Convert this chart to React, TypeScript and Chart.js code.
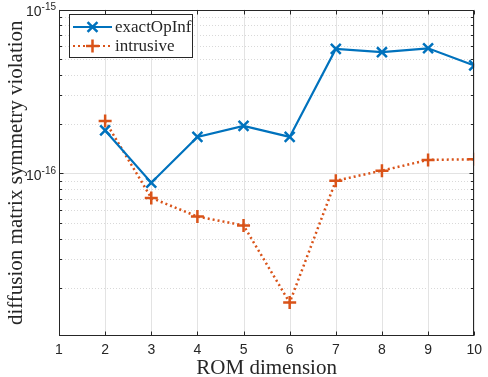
import { useEffect, useRef } from 'react';
import { Chart, registerables } from 'chart.js';

Chart.register(...registerables);

const romDims = [2, 3, 4, 5, 6, 7, 8, 9, 10];
const exactOpInf = [1.83e-16, 8.78e-17, 1.67e-16, 1.95e-16, 1.67e-16, 5.75e-16, 5.49e-16, 5.8e-16, 4.56e-16];
const intrusive = [2.09e-16, 7.09e-17, 5.46e-17, 4.82e-17, 1.63e-17, 9.03e-17, 1.04e-16, 1.21e-16, 1.22e-16];
const xTicks = [1, 2, 3, 4, 5, 6, 7, 8, 9, 10];
const yMajorTicks = [1e-16, 1e-15];
const yMajorLabels = ['-16', '-15'];
const yMin = 1.02e-17;
const yMax = 1e-15;
const seriesNames = ['exactOpInf', 'intrusive'];
const xTitle = 'ROM dimension';
const yTitle = 'diffusion matrix symmetry violation';

const BLUE = '#0072BD';
const ORANGE = '#D95319';
const AXIS = '#262626';
const GRID = '#e3e3e3';
const MINOR = '#d9d9d9';

const drawMarker = (ctx: CanvasRenderingContext2D, kind: string, cx: number, cy: number, r: number) => {
  ctx.beginPath();
  if (kind === 'x') {
    const d = r * Math.SQRT1_2;
    ctx.moveTo(cx - d, cy - d); ctx.lineTo(cx + d, cy + d);
    ctx.moveTo(cx - d, cy + d); ctx.lineTo(cx + d, cy - d);
  } else {
    ctx.moveTo(cx - r, cy); ctx.lineTo(cx + r, cy);
    ctx.moveTo(cx, cy - r); ctx.lineTo(cx, cy + r);
  }
  ctx.stroke();
};

const matlabPlugin = {
  id: 'matlabAxes',
  beforeDatasetsDraw(chart: any) {
    const { ctx, chartArea: a, scales } = chart;
    const x = scales.x, y = scales.y;
    ctx.save();
    ctx.lineWidth = 1;
    ctx.strokeStyle = MINOR;
    ctx.setLineDash([1, 2]);
    for (let d = 1e-17; d < yMax; d *= 10) {
      for (let m = 2; m <= 9; m++) {
        const v = m * d;
        if (v <= yMin || v >= yMax) continue;
        const py = Math.round(y.getPixelForValue(v)) + 0.5;
        ctx.beginPath(); ctx.moveTo(a.left, py); ctx.lineTo(a.right, py); ctx.stroke();
      }
    }
    ctx.setLineDash([]);
    ctx.strokeStyle = GRID;
    for (const t of xTicks) {
      const px = Math.round(x.getPixelForValue(t)) + 0.5;
      ctx.beginPath(); ctx.moveTo(px, a.top); ctx.lineTo(px, a.bottom); ctx.stroke();
    }
    for (const t of yMajorTicks) {
      const py = Math.round(y.getPixelForValue(t)) + 0.5;
      ctx.beginPath(); ctx.moveTo(a.left, py); ctx.lineTo(a.right, py); ctx.stroke();
    }
    ctx.restore();
  },
  afterDatasetsDraw(chart: any) {
    const { ctx, chartArea: a, scales } = chart;
    const x = scales.x, y = scales.y;
    ctx.save();
    ctx.strokeStyle = AXIS;
    ctx.lineWidth = 1;
    const L = Math.round(a.left) + 0.5, R = Math.round(a.right) - 0.5;
    const T = Math.round(a.top) + 0.5, B = Math.round(a.bottom) - 0.5;
    ctx.strokeRect(L, T, R - L, B - T);
    for (const t of xTicks) {
      const px = Math.round(x.getPixelForValue(t)) + 0.5;
      ctx.beginPath();
      ctx.moveTo(px, B); ctx.lineTo(px, B - 4);
      ctx.moveTo(px, T); ctx.lineTo(px, T + 4);
      ctx.stroke();
    }
    for (let d = 1e-17; d <= yMax * 1.0001; d *= 10) {
      for (let m = 1; m <= 9; m++) {
        const v = m * d;
        if (v < yMin || v > yMax * 1.0001) continue;
        const len = m === 1 ? 4 : 2.5;
        const py = Math.round(y.getPixelForValue(v)) + 0.5;
        ctx.beginPath();
        ctx.moveTo(L, py); ctx.lineTo(L + len, py);
        ctx.moveTo(R, py); ctx.lineTo(R - len, py);
        ctx.stroke();
      }
    }
    ctx.fillStyle = AXIS;
    ctx.textBaseline = 'middle';
    yMajorTicks.forEach((t, i) => {
      const py = y.getPixelForValue(t);
      ctx.font = '10px "Liberation Sans", Arial, sans-serif';
      ctx.textAlign = 'right';
      const supW = ctx.measureText(yMajorLabels[i]).width;
      ctx.fillText(yMajorLabels[i], a.left - 3, py - 2);
      ctx.font = '14px "Liberation Sans", Arial, sans-serif';
      ctx.fillText('10', a.left - 3 - supW, py + 2.5);
    });
    ctx.font = '21px "Liberation Serif", "Times New Roman", serif';
    ctx.textAlign = 'center';
    ctx.textBaseline = 'alphabetic';
    ctx.fillText(xTitle, (a.left + a.right) / 2, 374);
    ctx.save();
    ctx.translate(22, (a.top + a.bottom) / 2);
    ctx.rotate(-Math.PI / 2);
    ctx.fillText(yTitle, 0, 0);
    ctx.restore();
    const lx = 69.5, ly = 14.5, lw = 123, lh = 43;
    ctx.fillStyle = '#ffffff';
    ctx.fillRect(lx, ly, lw, lh);
    ctx.strokeStyle = AXIS;
    ctx.lineWidth = 1;
    ctx.strokeRect(lx, ly, lw, lh);
    const rows = [
      { name: seriesNames[0], color: BLUE, dash: [] as number[], marker: 'x', cy: 27 },
      { name: seriesNames[1], color: ORANGE, dash: [2, 3], marker: '+', cy: 46 },
    ];
    for (const r of rows) {
      ctx.strokeStyle = r.color;
      ctx.lineWidth = 2.2;
      ctx.setLineDash(r.dash);
      ctx.beginPath(); ctx.moveTo(73, r.cy); ctx.lineTo(112, r.cy); ctx.stroke();
      ctx.setLineDash([]);
      ctx.lineWidth = 2.5;
      drawMarker(ctx, r.marker, 92.5, r.cy, r.marker === 'x' ? 7 : 6.5);
      ctx.fillStyle = AXIS;
      ctx.font = '17px "Liberation Serif", "Times New Roman", serif';
      ctx.textAlign = 'left';
      ctx.textBaseline = 'middle';
      ctx.fillText(r.name, 115, r.cy + 1);
    }
    ctx.restore();
  },
};

export default function App() {
  const ref = useRef<HTMLCanvasElement | null>(null);
  useEffect(() => {
    document.body.style.margin = '0';
    const canvas = ref.current;
    if (!canvas) return;
    const chart = new Chart(canvas, {
      type: 'line',
      data: {
        datasets: [
          {
            label: seriesNames[0],
            data: romDims.map((d, i) => ({ x: d, y: exactOpInf[i] })),
            borderColor: BLUE,
            backgroundColor: BLUE,
            borderWidth: 2.2,
            pointStyle: 'crossRot',
            pointRadius: 7,
            pointBorderWidth: 2.5,
            pointBorderColor: BLUE,
            tension: 0,
            fill: false,
          },
          {
            label: seriesNames[1],
            data: romDims.map((d, i) => ({ x: d, y: intrusive[i] })),
            borderColor: ORANGE,
            backgroundColor: ORANGE,
            borderWidth: 2.5,
            borderDash: [2, 3],
            pointStyle: 'cross',
            pointRadius: 6.5,
            pointBorderWidth: 2.5,
            pointBorderColor: ORANGE,
            tension: 0,
            fill: false,
          },
        ],
      },
      options: {
        responsive: false,
        animation: false,
        devicePixelRatio: 1,
        layout: { padding: { top: 6, right: 10, left: 0, bottom: 0 } },
        plugins: { legend: { display: false }, tooltip: { enabled: false } },
        scales: {
          x: {
            type: 'linear',
            min: 1,
            max: 10,
            afterBuildTicks: (s: any) => { s.ticks = xTicks.map((v) => ({ value: v })); },
            afterFit: (s: any) => { s.height = 41; },
            grid: { display: false, drawTicks: false },
            border: { display: false },
            ticks: {
              padding: 6,
              color: AXIS,
              font: { family: '"Liberation Sans", Arial, sans-serif', size: 14 },
              maxRotation: 0,
              autoSkip: false,
            },
          },
          y: {
            type: 'logarithmic',
            min: yMin,
            max: yMax,
            afterFit: (s: any) => { s.width = 59; },
            grid: { display: false, drawTicks: false },
            border: { display: false },
            ticks: { display: false },
          },
        },
      },
      plugins: [matlabPlugin],
    } as any);
    return () => chart.destroy();
  }, []);
  return (
    <div style={{ position: 'absolute', left: 0, top: 0, width: 488, height: 377 }}>
      <canvas ref={ref} width={488} height={377} />
    </div>
  );
}
